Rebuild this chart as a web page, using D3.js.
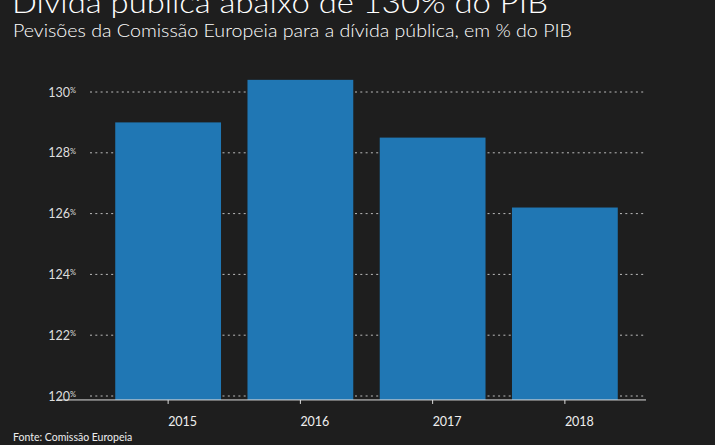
<!DOCTYPE html>
<html>
<head>
<meta charset="utf-8">
<script src="https://cdn.jsdelivr.net/npm/d3@7"></script>
<style>
  html, body { margin: 0; padding: 0; background: #1e1e1e; }
  svg { display: block; font-family: Lato, "Noto Sans", sans-serif; }
</style>
</head>
<body>
<svg id="chart"></svg>
<script>
// dados
var anos = ['2015', '2016', '2017', '2018'];
var divida = [129.0, 130.4, 128.5, 126.2];
var ticksY = [120, 122, 124, 126, 128, 130];

var width = 715, height = 445;
var svg = d3.select('#chart').attr('width', width).attr('height', height);

svg.append('rect').attr('width', width).attr('height', height).attr('fill', '#1e1e1e');

// titulo (cortado no topo, como no original)
svg.append('text')
  .attr('x', 12).attr('y', 13)
  .attr('fill', '#fff')
  .style('font-size', '30px')
  .style('font-weight', 300)
  .attr('textLength', 536)
  .attr('lengthAdjust', 'spacingAndGlyphs')
  .text('Dívida pública abaixo de 130% do PIB');

svg.append('text')
  .attr('x', 13).attr('y', 37)
  .attr('fill', '#fff')
  .style('font-size', '17.5px')
  .style('font-weight', 300)
  .attr('textLength', 559)
  .attr('lengthAdjust', 'spacingAndGlyphs')
  .text('Pevisões da Comissão Europeia para a dívida pública, em % do PIB');

var x = d3.scaleBand()
  .domain(anos)
  .range([102, 631])
  .paddingInner(0.2)
  .paddingOuter(0.1);

var y = d3.scaleLinear().domain([120, 130]).range([396, 92]);
var base = y(119.87);

// grelha
svg.append('g')
  .selectAll('line')
  .data(ticksY)
  .enter().append('line')
  .attr('x1', 90).attr('x2', 646)
  .attr('y1', function (d) { return y(d); })
  .attr('y2', function (d) { return y(d); })
  .attr('stroke', '#bbb')
  .attr('stroke-width', 1)
  .attr('stroke-dasharray', '2,3.3');

// etiquetas y
var lab = svg.append('g')
  .selectAll('text')
  .data(ticksY)
  .enter().append('text')
  .attr('x', 76)
  .attr('y', function (d) { return y(d) + 4.5; })
  .attr('text-anchor', 'end')
  .attr('fill', '#ddd')
  .style('font-size', '12.5px');
lab.append('tspan').text(function (d) { return d; });
lab.append('tspan').attr('dy', -3.5).style('font-size', '7.5px').text('%');

// barras
svg.append('g')
  .selectAll('rect')
  .data(divida)
  .enter().append('rect')
  .attr('x', function (d, i) { return x(anos[i]); })
  .attr('width', x.bandwidth())
  .attr('y', function (d) { return y(d); })
  .attr('height', function (d) { return base - y(d); })
  .attr('fill', '#2077b4');

// eixo x
svg.append('line')
  .attr('x1', 58).attr('x2', 646)
  .attr('y1', base).attr('y2', base)
  .attr('stroke', '#ddd').attr('stroke-width', 1);

var ticks = svg.append('g')
  .selectAll('g')
  .data(anos)
  .enter().append('g')
  .attr('transform', function (d) { return 'translate(' + (x(d) + x.bandwidth() / 2) + ',' + base + ')'; });
ticks.append('line').attr('y2', 4).attr('stroke', '#ddd');
ticks.append('text')
  .attr('x', 0).attr('y', 26)
  .attr('fill', '#eee')
  .style('font-size', '12.5px')
  .text(function (d) { return d; });

svg.append('text')
  .attr('x', 13).attr('y', 441)
  .attr('fill', '#eee')
  .style('font-size', '10.5px')
  .text('Fonte: Comissão Europeia');
</script>
</body>
</html>
